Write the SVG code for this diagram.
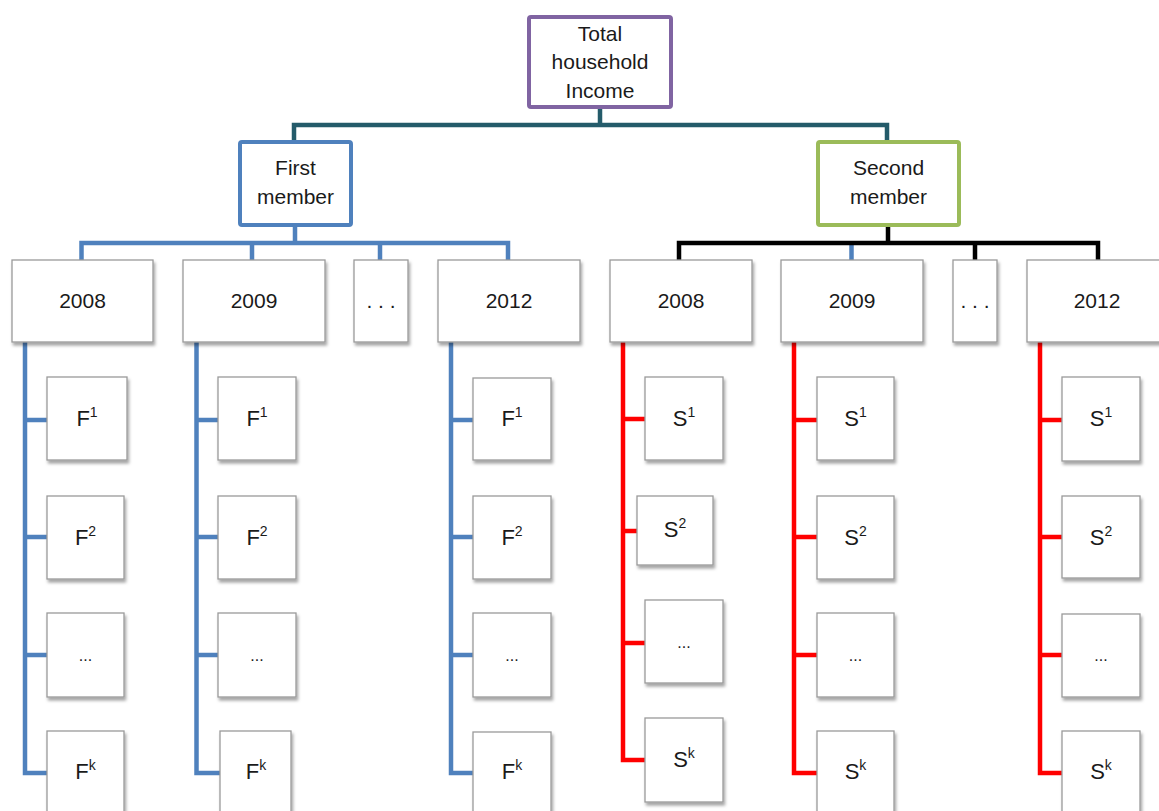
<svg xmlns="http://www.w3.org/2000/svg" width="1159" height="811" viewBox="0 0 1159 811">
<defs>
<filter id="sh" x="-20%" y="-20%" width="150%" height="150%">
<feDropShadow dx="1.5" dy="3" stdDeviation="1.8" flood-color="#000" flood-opacity="0.35"/>
</filter>
<style>
.t{font-family:"Liberation Sans",Arial,sans-serif;font-size:21px;fill:#1a1a1a;text-anchor:middle}
.c{font-family:"Liberation Sans",Arial,sans-serif;font-size:22px;fill:#1a1a1a;text-anchor:middle}
.sup{font-size:14px}
.dots{font-family:"Liberation Sans",Arial,sans-serif;font-size:16px;fill:#1a1a1a;text-anchor:middle}
.box{fill:#fff;stroke:#9a9a9a;stroke-width:1.3;filter:url(#sh)}
.teal{fill:none;stroke:#245B6A;stroke-width:4.5}
.blue{fill:none;stroke:#4F81BD;stroke-width:4.5}
.black{fill:none;stroke:#000;stroke-width:4.5}
.red{fill:none;stroke:#FF0000;stroke-width:4.5}
</style>
</defs>
<rect width="1159" height="811" fill="#fff"/>

<g id="connectors">
<path class="teal" d="M600 109V125M294 140V125H887V140"/>
<path class="blue" d="M295 227V243M81.5 260V243H508V260M252 243V260M380 243V260"/>
<path class="blue" d="M851.5 243V260"/>
<path class="black" d="M888 227V243M679 260V243H1098V260M975 243V260"/>
<!-- left member columns -->
<path class="blue" d="M25 342V773H47M25 420H47M25 537H47M25 655H47"/>
<path class="blue" d="M196.5 342V773H220M196.5 420H218M196.5 537H218M196.5 655H218"/>
<path class="blue" d="M451 342V773H473M451 420H473M451 537H473M451 655H473"/>
<!-- right member columns -->
<path class="red" d="M623 342V760H645M623 419H645M623 531H637M623 643H645"/>
<path class="red" d="M794 342V773H817M794 420H817M794 537H817M794 655H817"/>
<path class="red" d="M1040 342V773H1062M1040 420H1062M1040 537H1062M1040 655H1062"/>
</g>

<g id="total">
<rect x="529" y="17" width="142" height="90" rx="2" fill="#fff" stroke="#8064A2" stroke-width="4"/>
<text class="t" x="600" y="41">Total</text>
<text class="t" x="600" y="69">household</text>
<text class="t" x="600" y="98">Income</text>
</g>

<g id="first-member">
<rect x="240" y="142" width="111" height="83" rx="2" fill="#fff" stroke="#4F81BD" stroke-width="4"/>
<text class="t" x="295.5" y="175">First</text>
<text class="t" x="295.5" y="204">member</text>
</g>

<g id="second-member">
<rect x="818" y="142" width="141" height="83" rx="2" fill="#fff" stroke="#9BBB59" stroke-width="4"/>
<text class="t" x="888.5" y="175">Second</text>
<text class="t" x="888.5" y="204">member</text>
</g>

<!-- year boxes, first member -->
<g id="f-2008"><rect class="box" x="12" y="260" width="141" height="82"/><text class="t" x="82.5" y="308">2008</text></g>
<g id="f-2009"><rect class="box" x="183" y="260" width="142" height="82"/><text class="t" x="254" y="308">2009</text></g>
<g id="f-dots"><rect class="box" x="354" y="260" width="54" height="82"/><text class="t" x="381" y="308">. . .</text></g>
<g id="f-2012"><rect class="box" x="438" y="260" width="142" height="82"/><text class="t" x="509" y="308">2012</text></g>

<!-- year boxes, second member -->
<g id="s-2008"><rect class="box" x="610" y="260" width="142" height="82"/><text class="t" x="681" y="308">2008</text></g>
<g id="s-2009"><rect class="box" x="781" y="260" width="142" height="82"/><text class="t" x="852" y="308">2009</text></g>
<g id="s-dots"><rect class="box" x="953" y="260" width="44" height="82"/><text class="t" x="975" y="308">. . .</text></g>
<g id="s-2012"><rect class="box" x="1027" y="260" width="142" height="82"/><text class="t" x="1097" y="308">2012</text></g>

<!-- first member 2008 children -->
<g id="f08-1"><rect class="box" x="47" y="377" width="80" height="83"/><text class="c" x="87" y="426">F<tspan class="sup" dy="-9">1</tspan></text></g>
<g id="f08-2"><rect class="box" x="47" y="496" width="77" height="83"/><text class="c" x="85.5" y="545">F<tspan class="sup" dy="-9">2</tspan></text></g>
<g id="f08-3"><rect class="box" x="47" y="613" width="77" height="84"/><text class="dots" x="85.5" y="661">...</text></g>
<g id="f08-k"><rect class="box" x="47" y="731" width="77" height="84"/><text class="c" x="85.5" y="779">F<tspan class="sup" dy="-9">k</tspan></text></g>

<!-- first member 2009 children -->
<g id="f09-1"><rect class="box" x="218" y="377" width="78" height="83"/><text class="c" x="257" y="426">F<tspan class="sup" dy="-9">1</tspan></text></g>
<g id="f09-2"><rect class="box" x="218" y="496" width="78" height="83"/><text class="c" x="257" y="545">F<tspan class="sup" dy="-9">2</tspan></text></g>
<g id="f09-3"><rect class="box" x="218" y="613" width="78" height="84"/><text class="dots" x="257" y="661">...</text></g>
<g id="f09-k"><rect class="box" x="220" y="731" width="71" height="84"/><text class="c" x="256" y="779">F<tspan class="sup" dy="-9">k</tspan></text></g>

<!-- first member 2012 children -->
<g id="f12-1"><rect class="box" x="473" y="378" width="78" height="82"/><text class="c" x="512" y="426">F<tspan class="sup" dy="-9">1</tspan></text></g>
<g id="f12-2"><rect class="box" x="473" y="496" width="78" height="83"/><text class="c" x="512" y="545">F<tspan class="sup" dy="-9">2</tspan></text></g>
<g id="f12-3"><rect class="box" x="473" y="613" width="78" height="84"/><text class="dots" x="512" y="661">...</text></g>
<g id="f12-k"><rect class="box" x="473" y="732" width="78" height="84"/><text class="c" x="512" y="779">F<tspan class="sup" dy="-9">k</tspan></text></g>

<!-- second member 2008 children -->
<g id="s08-1"><rect class="box" x="645" y="377" width="78" height="83"/><text class="c" x="684" y="426">S<tspan class="sup" dy="-9">1</tspan></text></g>
<g id="s08-2"><rect class="box" x="637" y="496" width="76" height="69"/><text class="c" x="675" y="537">S<tspan class="sup" dy="-9">2</tspan></text></g>
<g id="s08-3"><rect class="box" x="645" y="600" width="78" height="83"/><text class="dots" x="684" y="648">...</text></g>
<g id="s08-k"><rect class="box" x="645" y="718" width="78" height="84"/><text class="c" x="684" y="767">S<tspan class="sup" dy="-9">k</tspan></text></g>

<!-- second member 2009 children -->
<g id="s09-1"><rect class="box" x="817" y="377" width="77" height="83"/><text class="c" x="855.5" y="426">S<tspan class="sup" dy="-9">1</tspan></text></g>
<g id="s09-2"><rect class="box" x="817" y="496" width="77" height="83"/><text class="c" x="855.5" y="545">S<tspan class="sup" dy="-9">2</tspan></text></g>
<g id="s09-3"><rect class="box" x="817" y="613" width="77" height="84"/><text class="dots" x="855.5" y="661">...</text></g>
<g id="s09-k"><rect class="box" x="817" y="731" width="77" height="84"/><text class="c" x="855.5" y="779">S<tspan class="sup" dy="-9">k</tspan></text></g>

<!-- second member 2012 children -->
<g id="s12-1"><rect class="box" x="1062" y="377" width="78" height="84"/><text class="c" x="1101" y="426">S<tspan class="sup" dy="-9">1</tspan></text></g>
<g id="s12-2"><rect class="box" x="1062" y="496" width="78" height="82"/><text class="c" x="1101" y="545">S<tspan class="sup" dy="-9">2</tspan></text></g>
<g id="s12-3"><rect class="box" x="1062" y="614" width="78" height="83"/><text class="dots" x="1101" y="661">...</text></g>
<g id="s12-k"><rect class="box" x="1062" y="731" width="78" height="84"/><text class="c" x="1101" y="779">S<tspan class="sup" dy="-9">k</tspan></text></g>
</svg>
